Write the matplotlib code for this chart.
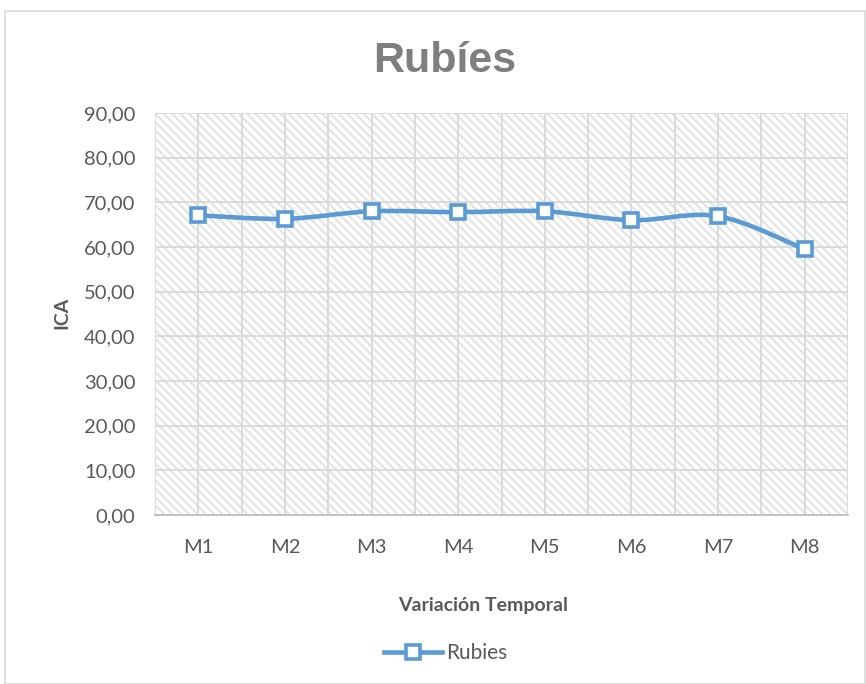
import numpy as np
import matplotlib.pyplot as plt
from matplotlib.path import Path
from matplotlib.patches import PathPatch, Rectangle
from matplotlib.lines import Line2D

categories = ['M1', 'M2', 'M3', 'M4', 'M5', 'M6', 'M7', 'M8']
ica = [67.1, 66.3, 68.0, 67.8, 68.0, 66.0, 66.9, 59.5]
yticks = [0, 10, 20, 30, 40, 50, 60, 70, 80, 90]

BLUE = '#5B9BD5'
GRID = '#D9D9D9'
TXT = '#595959'

plt.rcParams['font.family'] = ['Lato', 'DejaVu Sans']
plt.rcParams['hatch.linewidth'] = 1.5
plt.rcParams['hatch.color'] = '#E3E3E3'

fig = plt.figure(figsize=(8.66, 6.84), dpi=100)
ax = fig.add_axes([155 / 866, 1 - 515 / 684, 693 / 866, 402 / 684])

# chart border
fig.patches.append(Rectangle((5 / 866, 0), 1 - 6 / 866, 1 - 11 / 684, transform=fig.transFigure,
                             fill=False, edgecolor='#D9D9D9', linewidth=1.2))

x = np.arange(len(categories))
ax.set_xlim(-0.5, len(categories) - 0.5)
ax.set_ylim(0, 90)

# hatched plot area
ax.add_patch(Rectangle((-0.5, 0), len(categories), 90, facecolor='white', edgecolor='#E3E3E3',
                       hatch='\\\\\\\\', linewidth=0, zorder=0))

# gridlines
for yv in yticks:
    ax.axhline(yv, color=GRID, linewidth=1.3, zorder=1)
for xv in np.arange(-0.5, len(categories), 0.5):
    ax.axvline(xv, color=GRID, linewidth=1.3, zorder=1)

# smoothed line (Catmull-Rom style bezier through the points)
pts = np.column_stack([x, ica])
verts = [pts[0]]
codes = [Path.MOVETO]
for i in range(len(pts) - 1):
    p0 = pts[i - 1] if i > 0 else pts[i]
    p1, p2 = pts[i], pts[i + 1]
    p3 = pts[i + 2] if i + 2 < len(pts) else pts[i + 1]
    c1 = p1 + (p2 - p0) / 6
    c2 = p2 - (p3 - p1) / 6
    verts += [c1, c2, p2]
    codes += [Path.CURVE4] * 3
ax.add_patch(PathPatch(Path(verts, codes), facecolor='none', edgecolor=BLUE, linewidth=3.3, zorder=3,
                       capstyle='round'))
ax.plot(x, ica, linestyle='none', marker='s', markersize=10.5, markerfacecolor='white',
        markeredgecolor=BLUE, markeredgewidth=2.6, zorder=4)

ax.set_xticks(x)
ax.set_xticklabels(categories)
ax.set_yticks(yticks)
ax.set_yticklabels([f'{v:.2f}'.replace('.', ',') for v in yticks])
ax.tick_params(length=0, labelsize=14.5, labelcolor=TXT)
ax.tick_params(axis='y', pad=14)
ax.tick_params(axis='x', pad=17)
for s in ax.spines.values():
    s.set_visible(False)
ax.plot([-0.5, len(categories) - 0.5], [0, 0], color='#BFBFBF', linewidth=1.3, clip_on=False, zorder=2)

fig.text(445 / 866, 1 - 72 / 684, 'Rubíes', ha='center', va='baseline', fontsize=31, fontweight='bold',
         color='#7F7F7F', family=['Liberation Sans', 'DejaVu Sans'])
fig.text(62 / 866, 1 - 313 / 684, 'ICA', ha='center', va='center', rotation=90, fontsize=14,
         fontweight='bold', color=TXT)
fig.text(483 / 866, 1 - 605 / 684, 'Variación Temporal', ha='center', va='center', fontsize=14,
         fontweight='bold', color=TXT)

handle = Line2D([], [], color=BLUE, linewidth=3.3, marker='s', markersize=10.5, markerfacecolor='white',
                markeredgecolor=BLUE, markeredgewidth=2.6)
fig.legend([handle], ['Rubies'], loc='center', bbox_to_anchor=(446 / 866, 1 - 653 / 684), frameon=False,
           fontsize=15, labelcolor=TXT, handlelength=2.8, handletextpad=0.2)

fig.savefig('out.png', dpi=100)
